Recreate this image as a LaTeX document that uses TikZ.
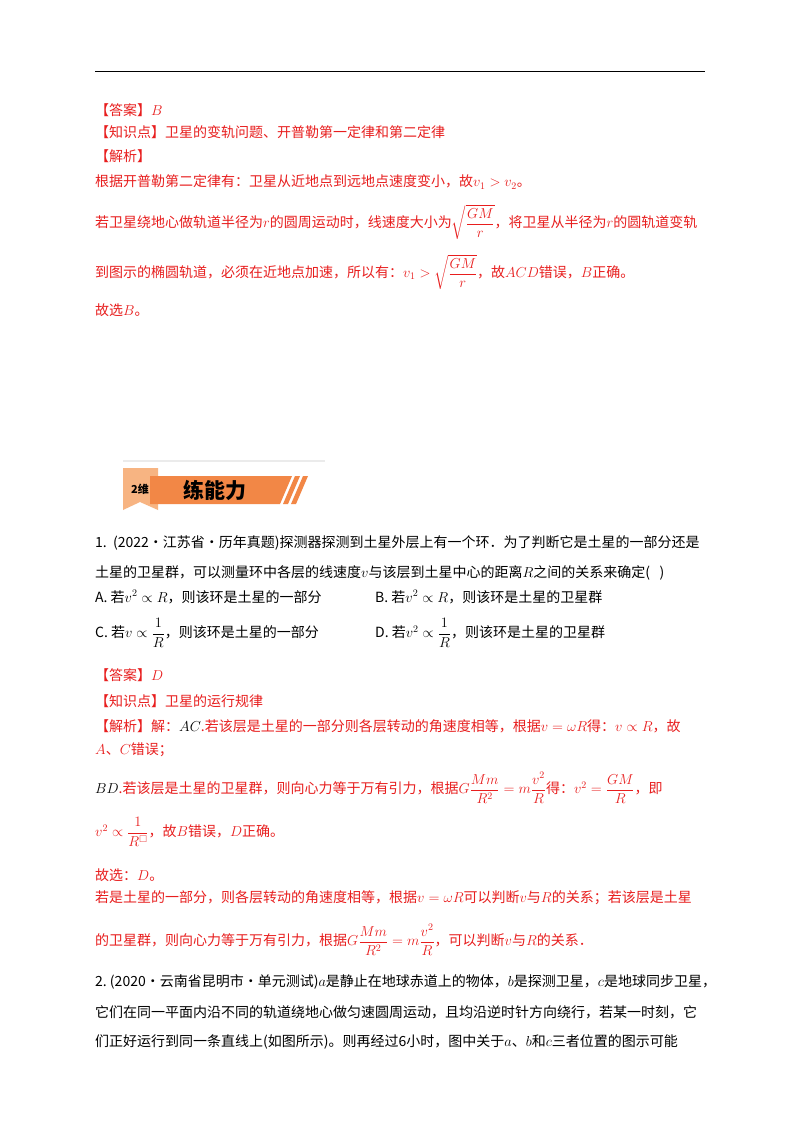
\documentclass[tikz,border=0pt]{standalone}
\usepackage{amsmath,amssymb}
\usepackage{fontspec}
\setmainfont{Noto Sans CJK SC}
\definecolor{ans}{RGB}{232,30,30}
\definecolor{org}{RGB}{242,135,70}
\definecolor{lorg}{RGB}{247,180,130}
\begin{document}
\begin{tikzpicture}[x=1pt,y=-1pt,
  t/.style={anchor=west,inner sep=0pt,font=\fontsize{14}{16}\selectfont},
  r/.style={t,text=ans}]
\useasboundingbox[fill=white] (0,0) rectangle (800,1132);
\draw[line width=1pt] (95,72) -- (705,72);
\node[r] (l1) at (95,110) {【答案】$B$};
\node[r] (l2) at (95,132) {【知识点】卫星的变轨问题、开普勒第一定律和第二定律};
\node[r] (l3) at (95,156) {【解析】};
\node[r] (l4) at (95,182) {根据开普勒第二定律有：卫星从近地点到远地点速度变小，故$v_1>v_2$。};
\node[r] (l5) at (95,222) {若卫星绕地心做轨道半径为$r$的圆周运动时，线速度大小为$\sqrt{\dfrac{GM}{r}}$，将卫星从半径为$r$的圆轨道变轨};
\node[r] (l6) at (95,272) {到图示的椭圆轨道，必须在近地点加速，所以有：$v_1>\sqrt{\dfrac{GM}{r}}$，故$ACD$错误，$B$正确。};
\node[r] (l7) at (95,310) {故选$B$。};
% banner
\draw[line width=2pt,black!8] (123,461) -- (325,461);
\fill[lorg] (123,468) -- (158,468) -- (158,510) -- (140,502) -- (123,510) -- cycle;
\fill[org] (150,476) -- (292,476) -- (280,504) -- (150,504) -- cycle;
\fill[org] (295,476) -- (300,476) -- (288,504) -- (283,504) -- cycle;
\fill[org] (303,476) -- (308,476) -- (296,504) -- (291,504) -- cycle;
\node[anchor=center,inner sep=0pt,font=\bfseries\fontsize{11}{12}\selectfont] (b1) at (140,489) {2维};
\node[anchor=west,inner sep=0pt,font=\bfseries\fontsize{21}{24}\selectfont] (b2) at (183,490) {练能力};
% question 1
\node[t] (q1) at (95,543) {1.\ \ (2022·江苏省·历年真题)探测器探测到土星外层上有一个环．为了判断它是土星的一部分还是};
\node[t] (q2) at (95,573) {土星的卫星群，可以测量环中各层的线速度$v$与该层到土星中心的距离$R$之间的关系来确定(\ \ \ )};
\node[t] (qa) at (95,597) {A.\ 若$v^2\propto R$，则该环是土星的一部分};
\node[t] (qb) at (375,597) {B.\ 若$v^2\propto R$，则该环是土星的卫星群};
\node[t] (qc) at (95,633) {C.\ 若$v\propto\dfrac{1}{R}$，则该环是土星的一部分};
\node[t] (qd) at (375,633) {D.\ 若$v^2\propto\dfrac{1}{R}$，则该环是土星的卫星群};
\node[r] (m1) at (95,675) {【答案】$D$};
\node[r] (m2) at (95,701) {【知识点】卫星的运行规律};
\node[r] (m3) at (95,726) {【解析】解：\textcolor{black}{$AC$}.若该层是土星的一部分则各层转动的角速度相等，根据$v=\omega R$得：$v\propto R$，故};
\node[r] (m4) at (95,750) {$A$、$C$错误；};
\node[r] (m5) at (95,788) {\textcolor{black}{$BD$}.若该层是土星的卫星群，则向心力等于万有引力，根据$G\dfrac{Mm}{R^2}=m\dfrac{v^2}{R}$得：$v^2=\dfrac{GM}{R}$，即};
\node[r] (m6) at (95,832) {$v^2\propto\dfrac{1}{R^{\square}}$，故$B$错误，$D$正确。};
\node[r] (m7) at (95,875) {故选：$D$。};
\node[r] (m8) at (95,898) {若是土星的一部分，则各层转动的角速度相等，根据$v=\omega R$可以判断$v$与$R$的关系；若该层是土星};
\node[r] (m9) at (95,940) {的卫星群，则向心力等于万有引力，根据$G\dfrac{Mm}{R^2}=m\dfrac{v^2}{R}$，可以判断$v$与$R$的关系．};
% question 2
\node[t] (p1) at (95,982) {2.\ (2020·云南省昆明市·单元测试)$a$是静止在地球赤道上的物体，$b$是探测卫星，$c$是地球同步卫星，};
\node[t] (p2) at (95,1012) {它们在同一平面内沿不同的轨道绕地心做匀速圆周运动，且均沿逆时针方向绕行，若某一时刻，它};
\node[t] (p3) at (95,1042) {们正好运行到同一条直线上(如图所示)。则再经过6小时，图中关于$a$、$b$和$c$三者位置的图示可能};
\end{tikzpicture}
\end{document}
